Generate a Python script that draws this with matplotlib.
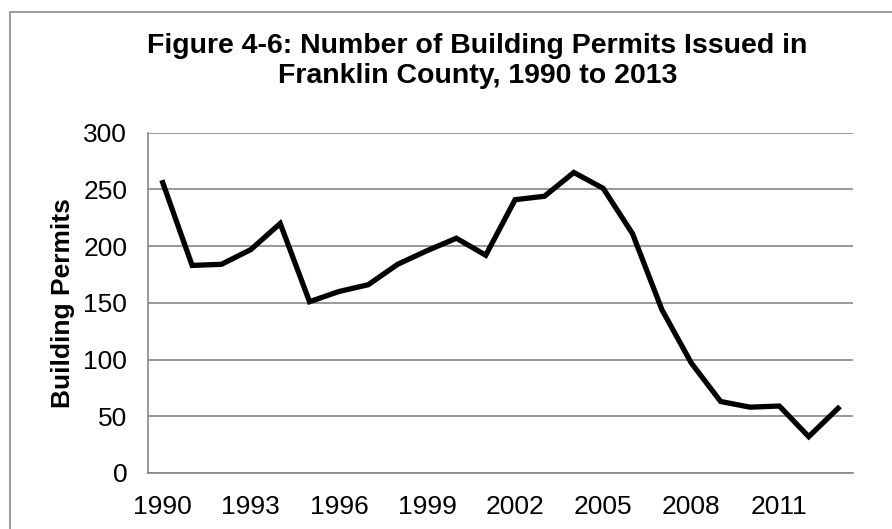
from matplotlib import pyplot as plt
from matplotlib.patches import Rectangle

years = list(range(1990, 2014))
permits = [256, 183, 184, 197, 220, 151, 160, 166, 184, 196, 207, 192,
           241, 244, 265, 251, 211, 144, 97, 63, 58, 59, 32, 57]
tick_years = [1990, 1993, 1996, 1999, 2002, 2005, 2008, 2011]
yticks = [0, 50, 100, 150, 200, 250, 300]

plt.rcParams['font.family'] = ['Liberation Sans', 'DejaVu Sans']

fig = plt.figure(figsize=(8.92, 5.29), dpi=100)
ax = fig.add_axes([0.166, 0.106, 0.79, 0.643])

# outer chart frame (right and bottom edges fall outside the picture)
fig.patches.append(Rectangle((10 / 892, -0.2), 1.2, 1.2 - 12 / 529,
                             transform=fig.transFigure, fill=False,
                             edgecolor='#8c8c8c', linewidth=1.2))

ax.plot(years, permits, color='black', linewidth=3.8, solid_joinstyle='miter')

ax.set_xlim(1989.5, 2013.5)
ax.set_ylim(0, 300)
ax.set_xticks(tick_years)
ax.set_yticks(yticks)
ax.tick_params(axis='both', length=0, labelsize=19)
ax.tick_params(axis='x', pad=16)
ax.tick_params(axis='y', pad=15)

ax.grid(axis='y', color='#868686', linewidth=1.2)
ax.set_axisbelow(True)
for side in ['top', 'right']:
    ax.spines[side].set_visible(False)
for side in ['left', 'bottom']:
    ax.spines[side].set_color('#868686')
    ax.spines[side].set_linewidth(1.2)

ax.set_ylabel('Building Permits', fontsize=19, fontweight='bold', labelpad=6)
fig.text(0.535, 0.885, 'Figure 4-6: Number of Building Permits Issued in\nFranklin County, 1990 to 2013',
         ha='center', va='center', fontsize=20.5, fontweight='bold', linespacing=1.2)

plt.savefig('out.png', dpi=100)
